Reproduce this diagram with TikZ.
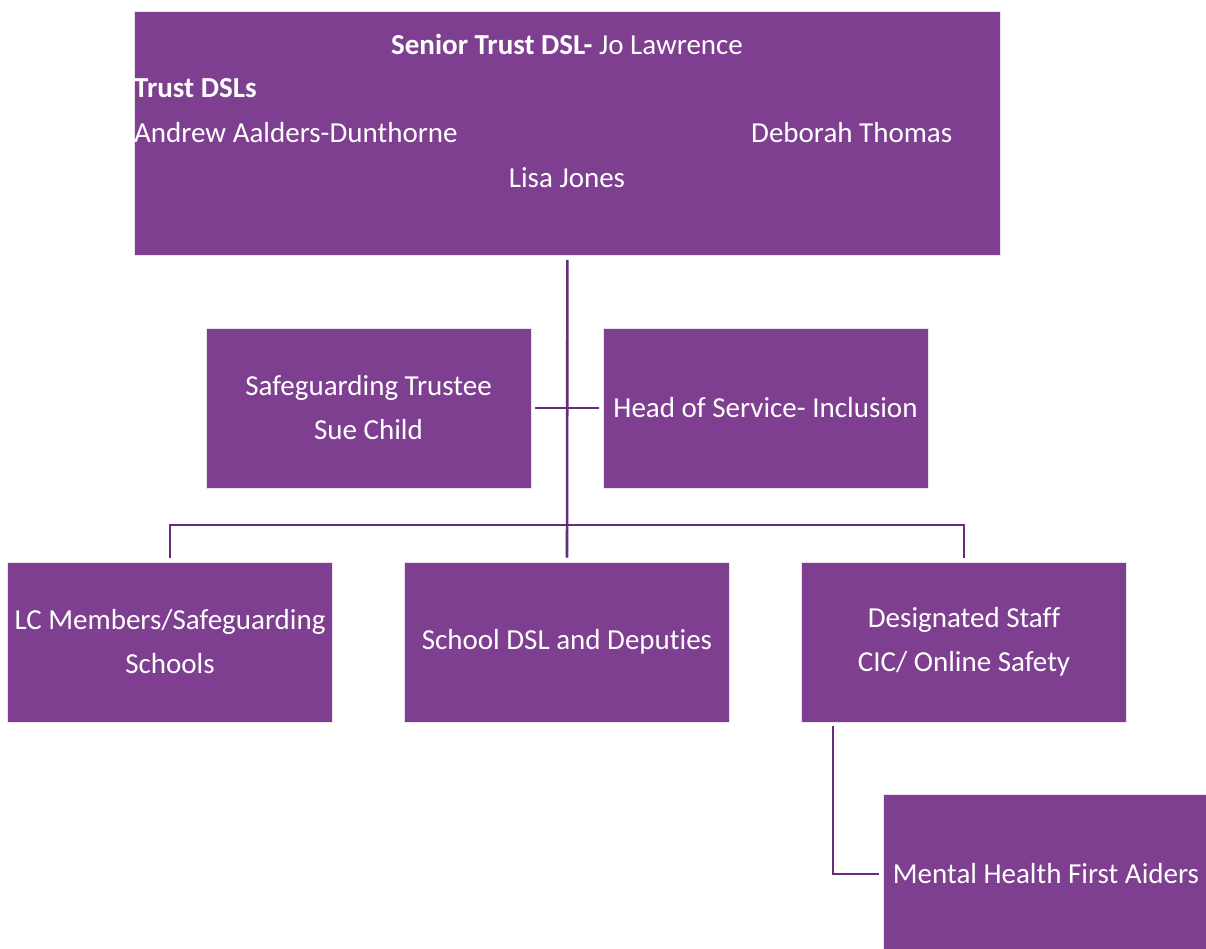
\documentclass[tikz,border=0pt]{standalone}
\usepackage{fontspec}
\setmainfont{Carlito}[Ligatures=NoCommon]
\usepackage{xcolor}
\usepackage{tikz}
\definecolor{boxpurple}{HTML}{7F3F91}
\definecolor{linepurple}{HTML}{642F76}
\tikzset{
  rolebox/.style={fill=boxpurple, draw=white!85!boxpurple, line width=0.8pt, text=white,
    minimum width=325pt, minimum height=160pt, inner sep=0pt, align=center},
  boxtext/.style={text=white, inner sep=0pt},
  link/.style={draw=linepurple, line width=2.6pt, shorten <=4pt, shorten >=4pt}
}
\begin{document}
\begin{tikzpicture}[x=1pt, y=-1pt, font=\fontsize{29}{44}\selectfont]
\useasboundingbox (0,0) rectangle (1206,949);

% Top box
\node[rolebox, minimum width=866pt, minimum height=244pt, anchor=north west] (trust) at (134,11) {};
\node[boxtext] (senior) at (567,44) {\textbf{Senior Trust DSL-} Jo Lawrence};
\node[boxtext, anchor=west] (dsls) at (134,88) {\textbf{Trust DSLs}};
\node[boxtext, anchor=west] (andrew) at (134,133) {Andrew Aalders-Dunthorne};
\node[boxtext, anchor=west] (deborah) at (751,133) {Deborah Thomas};
\node[boxtext] (lisa) at (567,178) {Lisa Jones};

% Middle row
\node[rolebox] (trustee) at (368.5,408) {Safeguarding Trustee\\Sue Child};
\node[rolebox] (inclusion) at (765.5,408) {Head of Service- Inclusion};

% Bottom row
\node[rolebox] (lc) at (170,642) {LC Members/Safeguarding\\Schools};
\node[rolebox] (school) at (567,642) {School DSL and Deputies};
\node[rolebox] (designated) at (964,642) {Designated Staff\\CIC/ Online Safety};
\node[rolebox] (mhfa) at (1046,874) {Mental Health First Aiders};

% Connectors
\coordinate (bus) at (567,525);
\draw[link] (trust.south) -- (school.north);
\draw[link] (trustee.east) -- (inclusion.west);
\draw[link] (lc.north) |- (bus) -| (designated.north);
\draw[link] ([xshift=-131pt]designated.south) |- (mhfa.west);
\end{tikzpicture}
\end{document}
